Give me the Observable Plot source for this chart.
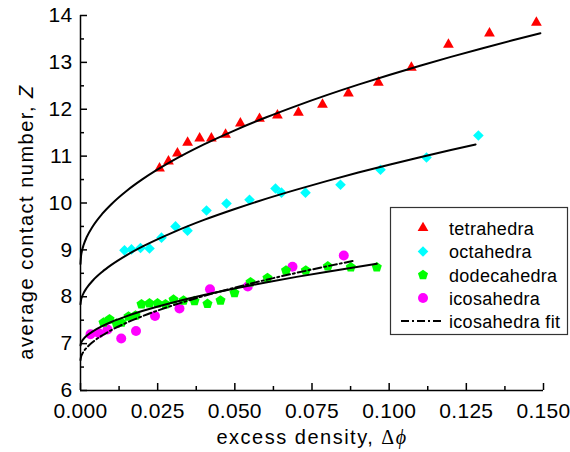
<!DOCTYPE html>
<html><head><meta charset="utf-8">
<script src="https://cdn.jsdelivr.net/npm/d3@7"></script>
<script src="https://cdn.jsdelivr.net/npm/@observablehq/plot@0.6"></script>
<style>body{margin:0;background:#fff}</style>
</head><body><div id="chart"></div>
<script>
// ---- data ----
const tetraX = [0.0256,0.0285,0.0314,0.0347,0.0386,0.0424,0.0470,0.0518,0.0580,0.0638,0.0706,0.0784,0.0868,0.0965,0.1072,0.1192,0.1325,0.1477];
const tetraZ = [10.74,10.89,11.06,11.29,11.38,11.38,11.46,11.70,11.80,11.87,11.93,12.10,12.34,12.57,12.89,13.38,13.62,13.85];

const octaX = [0.01425,0.01652,0.01944,0.02235,0.02624,0.03078,0.03467,0.04082,0.04730,0.05475,0.06317,0.06512,0.07289,0.08423,0.09719,0.1121,0.1289];
const octaZ = [8.99,9.01,9.04,9.03,9.26,9.50,9.41,9.84,9.99,10.07,10.31,10.22,10.22,10.39,10.71,10.97,11.44];

const dodecaX = [0.00745,0.00940,0.01166,0.01328,0.01555,0.01782,0.01976,0.02235,0.02495,0.02754,0.03013,0.03337,0.03693,0.04114,0.04536,0.04989,0.05508,0.06058,0.06658,0.07299,0.08012,0.08757,0.09599];
const dodecaZ = [7.45,7.52,7.43,7.45,7.58,7.60,7.84,7.86,7.86,7.84,7.94,7.92,7.91,7.85,7.92,8.08,8.31,8.40,8.56,8.56,8.65,8.63,8.63];

const icosaX = [0.00324,0.00599,0.00875,0.01319,0.01798,0.02414,0.03207,0.04195,0.05420,0.06868,0.08530];
const icosaZ = [7.20,7.22,7.30,7.11,7.27,7.59,7.75,8.16,8.22,8.64,8.88];

// fitted curves, sampled along the drawn lines
const fitTetraX = [0,0.0002,0.0005,0.001,0.002,0.004,0.007,0.01,0.015,0.02,0.03,0.04,0.05,0.06,0.07,0.08,0.09,0.10,0.11,0.12,0.13,0.14,0.149];
const fitTetraZ = [8.70,8.88,8.985,9.103,9.27,9.506,9.767,9.975,10.262,10.503,10.908,11.25,11.551,11.823,12.073,12.306,12.525,12.732,12.929,13.117,13.297,13.471,13.622];

const fitOctaX = [0,0.0002,0.0005,0.001,0.002,0.004,0.007,0.01,0.015,0.02,0.03,0.04,0.05,0.06,0.07,0.08,0.09,0.10,0.11,0.12,0.128];
const fitOctaZ = [7.84,7.938,8.001,8.076,8.186,8.347,8.530,8.679,8.888,9.068,9.374,9.639,9.872,10.088,10.286,10.472,10.649,10.816,10.976,11.130,11.249];

const fitDodecaX = [0,0.0002,0.0005,0.001,0.002,0.004,0.007,0.01,0.015,0.02,0.03,0.04,0.05,0.06,0.07,0.08,0.09,0.096];
const fitDodecaZ = [6.96,7.018,7.057,7.101,7.167,7.263,7.373,7.462,7.587,7.695,7.878,8.037,8.176,8.305,8.424,8.535,8.641,8.702];

const fitIcosaX = [0,0.0002,0.0005,0.001,0.002,0.004,0.007,0.01,0.015,0.02,0.03,0.04,0.05,0.06,0.07,0.08,0.0888];
const fitIcosaZ = [6.65,6.724,6.773,6.830,6.913,7.035,7.174,7.288,7.447,7.584,7.817,8.018,8.195,8.359,8.510,8.652,8.770];

const xMajor = [0,0.025,0.05,0.075,0.1,0.125,0.15];
const xMinor = [0.0125,0.0375,0.0625,0.0875,0.1125,0.1375];
const yMajor = [6,7,8,9,10,11,12,13,14];
const yMinor = [6.5,7.5,8.5,9.5,10.5,11.5,12.5,13.5];

const legendLabels = ["tetrahedra","octahedra","dodecahedra","icosahedra","icosahedra fit"];
const colors = {tetra:"#ff0000", octa:"#00ffff", dodeca:"#00ff00", icosa:"#ff00ff"};

// ---- chart ----
const W = 570, H = 452, ML = 80, MR = 27, MT = 15, MB = 62;
const innerW = W - ML - MR, innerH = H - MT - MB;
const pentagon = {draw(ctx, size){
  const R = Math.sqrt(size/2.3776);
  for (let i=0;i<5;i++){const a=-Math.PI/2+i*2*Math.PI/5; const px=R*Math.cos(a), py=R*Math.sin(a); if(i) ctx.lineTo(px,py); else ctx.moveTo(px,py);}
  ctx.closePath();
}};
const pts = (xs, zs) => xs.map((x,i)=>({x, z: zs[i]}));
const dash = "8,3,2,3";
const ident = d => d;

const chart = Plot.plot({
  width:W, height:H,
  marginLeft:ML, marginRight:MR, marginTop:MT, marginBottom:MB,
  style:{fontFamily:"'Liberation Sans', Arial, sans-serif", fontSize:"21px", letterSpacing:"0.3px", background:"white", color:"black", overflow:"visible"},
  x:{domain:[0,0.15], axis:null},
  y:{domain:[6,14], axis:null},
  marks:[
    Plot.dot(pts(tetraX,tetraZ), {x:"x", y:"z", symbol:"triangle", r:4, fill:colors.tetra}),
    Plot.dot(pts(octaX,octaZ), {x:"x", y:"z", symbol:"diamond2", r:4.8, fill:colors.octa}),
    Plot.dot(pts(icosaX,icosaZ), {x:"x", y:"z", symbol:"circle", r:5, fill:colors.icosa}),
    Plot.dot(pts(dodecaX,dodecaZ), {x:"x", y:"z", symbol:pentagon, r:4.6, fill:colors.dodeca}),
    Plot.line(pts(fitTetraX,fitTetraZ), {x:"x", y:"z", stroke:"black", strokeWidth:2, curve:"monotone-x"}),
    Plot.line(pts(fitOctaX,fitOctaZ), {x:"x", y:"z", stroke:"black", strokeWidth:2, curve:"monotone-x"}),
    Plot.line(pts(fitDodecaX,fitDodecaZ), {x:"x", y:"z", stroke:"black", strokeWidth:2, curve:"monotone-x"}),
    Plot.line(pts(fitIcosaX,fitIcosaZ), {x:"x", y:"z", stroke:"black", strokeWidth:2, strokeDasharray:dash, curve:"monotone-x"}),
    Plot.ruleX([0], {stroke:"black", strokeWidth:1.5}),
    Plot.ruleY([6], {stroke:"black", strokeWidth:1.5}),
    // inward ticks
    Plot.tickX(xMajor, {x:ident, insetTop:innerH-7, stroke:"black", strokeWidth:1.5}),
    Plot.tickX(xMinor, {x:ident, insetTop:innerH-4, stroke:"black", strokeWidth:1.5}),
    Plot.tickY(yMajor, {y:ident, insetRight:innerW-7, stroke:"black", strokeWidth:1.5}),
    Plot.tickY(yMinor, {y:ident, insetRight:innerW-4, stroke:"black", strokeWidth:1.5}),
    // tick labels
    Plot.axisX({ticks:xMajor, tickSize:0, tickPadding:13, tickFormat:d3.format(".3f"), label:null}),
    Plot.axisY({ticks:yMajor, tickSize:0, tickPadding:8, tickFormat:d3.format("d"), label:null})
  ]
});
document.getElementById("chart").appendChild(chart);

const svg = d3.select(chart);
// axis titles
svg.append("text").attr("transform","translate(33,222) rotate(-90)").attr("text-anchor","middle")
  .style("font-size","20px").style("letter-spacing","1.5px").attr("fill","black")
  .call(t=>{t.append("tspan").text("average contact number, "); t.append("tspan").style("font-style","italic").text("Z");});
svg.append("text").attr("transform","translate(312,444)").attr("text-anchor","middle")
  .style("font-size","20px").style("letter-spacing","1.5px").attr("fill","black")
  .call(t=>{t.append("tspan").text("excess density, ");
            t.append("tspan").style("font-family","'Liberation Serif', serif").text("Δ");
            t.append("tspan").style("font-family","'Liberation Serif', serif").style("font-style","italic").text("ϕ");});

// legend
const lg = svg.append("g");
lg.append("rect").attr("x",390.5).attr("y",207.5).attr("width",177).attr("height",127)
  .attr("fill","white").attr("stroke","#333").attr("stroke-width",1.2);
const legendSyms = [
  {fill:colors.tetra, sym:d3.symbolTriangle, r:4},
  {fill:colors.octa, sym:d3.symbolDiamond2, r:4.8},
  {fill:colors.dodeca, sym:pentagon, r:4.6},
  {fill:colors.icosa, sym:d3.symbolCircle, r:5},
  null
];
const rowY = [228, 251.5, 275, 298, 321];
legendLabels.forEach((lab,i)=>{
  const y = rowY[i];
  const s = legendSyms[i];
  if (s) {
    lg.append("path").attr("transform",`translate(423,${y})`).attr("fill",s.fill)
      .attr("d", d3.symbol(s.sym, Math.PI*s.r*s.r)());
  } else {
    lg.append("line").attr("x1",401).attr("x2",444).attr("y1",y).attr("y2",y)
      .attr("stroke","black").attr("stroke-width",2).attr("stroke-dasharray",dash);
  }
  lg.append("text").attr("x",449).attr("y",y+6.5).attr("text-anchor","start")
    .style("font-size","18px").style("letter-spacing","0.3px")
    .attr("fill","black").text(lab);
});
</script></body></html>
